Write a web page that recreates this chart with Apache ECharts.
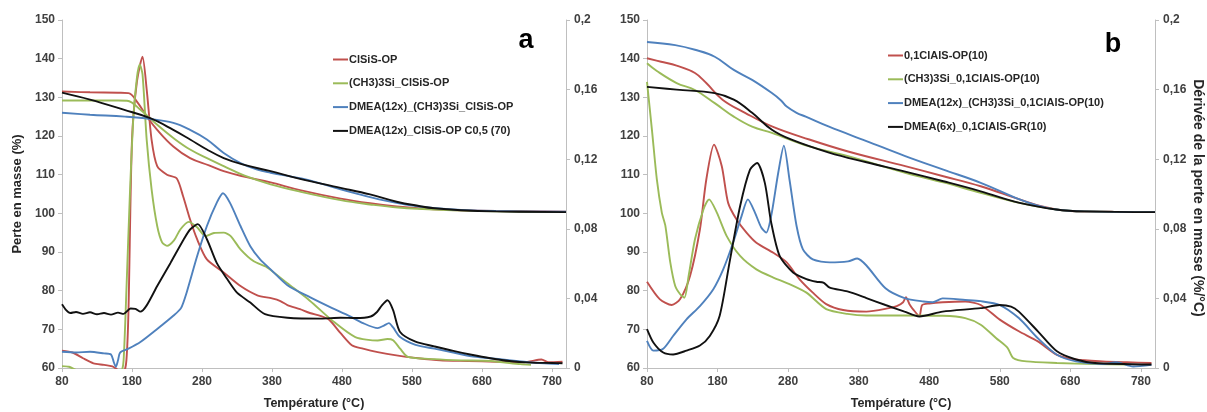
<!DOCTYPE html>
<html><head><meta charset="utf-8">
<script src="https://cdn.jsdelivr.net/npm/echarts@6/dist/echarts.min.js"></script>
<style>html,body{margin:0;padding:0;background:#fff}#c{width:1207px;height:412px}</style>
</head><body><div id="c"></div>
<script>
// ---------- DATA ----------
const xTicks = [80,180,280,380,480,580,680,780];
const leftTicks = [60,70,80,90,100,110,120,130,140,150];
const rightTicks = [0,0.04,0.08,0.12,0.16,0.2];

const namesA = ['ClSiS-OP','(CH3)3Si_ClSiS-OP','DMEA(12x)_(CH3)3Si_ClSiS-OP','DMEA(12x)_ClSiS-OP C0,5 (70)'];
const namesB = ['0,1ClAlS-OP(10)','(CH3)3Si_0,1ClAlS-OP(10)','DMEA(12x)_(CH3)3Si_0,1ClAlS-OP(10)','DMEA(6x)_0,1ClAlS-GR(10)'];

// Panel a – mass loss (%)
const redMassA = [[80,131.5],[120,131.3],[160,131.2],[175,131.1],[187,128.9],[201,125.1],[216,121.6],[239,117.3],[263,114.3],[290,112.4],[311,110.9],[340,109.5],[378,108],[420,106],[478,103.8],[520,102.6],[558,101.8],[600,101.2],[650,100.8],[700,100.6],[800,100.4]];
const greenMassA = [[80,129.2],[160,129.2],[173,129.1],[192,126.8],[216,122.9],[239,119.5],[263,116.5],[290,114],[311,112.2],[340,109.8],[378,107.5],[420,105.6],[478,103.4],[520,102.3],[560,101.5],[620,100.9],[700,100.5],[800,100.3]];
const blueMassA = [[80,126],[120,125.5],[170,125],[206,124.4],[239,123.4],[263,121.6],[287,119.1],[311,115.6],[335,113],[359,111.3],[378,110.5],[422,109],[450,107.7],[478,106.2],[505,104.9],[533,103.6],[571,102.3],[610,101.4],[650,100.9],[700,100.6],[800,100.4]];
const blackMassA = [[80,131.2],[120,129.4],[168,126.8],[206,124.6],[239,121.6],[263,119.1],[287,116.5],[311,114.3],[339,112.6],[378,110.9],[420,108.9],[478,106.6],[520,104.9],[558,103],[590,101.9],[612,101.3],[650,100.8],[700,100.5],[800,100.3]];

// Panel a – derivative (%/°C)
const redDerA = [[80,0.0100],[95,0.0089],[110,0.0056],[125,0.0027],[140,0.0018],[152,0.0009],[160,-0.0011],[168,-0.0022],[172,0.0044],[175,0.0333],[180,0.1311],[187,0.1644],[195,0.1789],[201,0.1600],[208,0.1311],[216,0.1160],[230,0.1111],[244,0.1089],[253,0.0987],[263,0.0853],[273,0.0740],[287,0.0624],[311,0.0549],[335,0.0471],[359,0.0418],[380,0.0400],[392,0.0385],[402,0.0362],[420,0.0338],[434,0.0316],[450,0.0298],[462,0.0276],[478,0.0200],[494,0.0131],[510,0.0111],[531,0.0091],[560,0.0071],[585,0.0058],[620,0.0044],[660,0.0040],[700,0.0036],[740,0.0033],[765,0.0049],[775,0.0033],[795,0.0036]];
const greenDerA = [[80,0.0011],[90,0.0007],[100,-0.0011],[130,-0.0044],[160,-0.0044],[165,-0.0022],[168,0.0044],[172,0.0444],[177,0.1000],[182,0.1444],[187,0.1667],[191,0.1744],[195,0.1689],[201,0.1311],[208,0.1027],[216,0.0816],[223,0.0722],[230,0.0702],[240,0.0733],[249,0.0796],[261,0.0840],[273,0.0809],[285,0.0758],[297,0.0776],[311,0.0778],[321,0.0758],[335,0.0682],[354,0.0613],[373,0.0578],[402,0.0487],[434,0.0387],[466,0.0273],[499,0.0178],[531,0.0158],[545,0.0167],[553,0.0160],[563,0.0111],[574,0.0064],[612,0.0051],[650,0.0044],[692,0.0040],[735,0.0022],[750,0.0018]];
const blueDerA = [[80,0.0093],[100,0.0089],[120,0.0093],[140,0.0084],[150,0.0078],[154,0.0033],[157,0.0007],[160,0.0044],[163,0.0089],[175,0.0111],[192,0.0149],[216,0.0224],[239,0.0300],[250,0.0344],[258,0.0433],[273,0.0642],[287,0.0816],[301,0.0949],[310,0.1004],[320,0.0949],[335,0.0816],[349,0.0700],[363,0.0624],[378,0.0567],[402,0.0476],[434,0.0407],[466,0.0344],[490,0.0300],[510,0.0258],[531,0.0229],[540,0.0244],[547,0.0258],[553,0.0233],[563,0.0178],[585,0.0133],[612,0.0111],[639,0.0089],[665,0.0067],[692,0.0056],[746,0.0033],[790,0.0022]];
const blackDerA = [[80,0.0367],[86,0.0333],[92,0.0316],[100,0.0322],[110,0.0311],[120,0.0320],[130,0.0309],[140,0.0316],[150,0.0307],[160,0.0318],[168,0.0311],[178,0.0342],[185,0.0340],[192,0.0324],[201,0.0360],[216,0.0471],[235,0.0604],[254,0.0740],[263,0.0796],[274,0.0827],[287,0.0740],[301,0.0604],[316,0.0511],[330,0.0433],[349,0.0376],[370,0.0309],[402,0.0289],[450,0.0284],[478,0.0289],[500,0.0287],[521,0.0296],[530,0.0322],[537,0.0360],[545,0.0389],[553,0.0333],[563,0.0207],[585,0.0151],[612,0.0124],[639,0.0098],[665,0.0076],[692,0.0056],[719,0.0040],[750,0.0031],[780,0.0029],[795,0.0027]];

// Panel b – mass loss (%)
const redMassB = [[80,140.1],[100,139.2],[122,138.2],[148,136.3],[164,133.7],[187,129.4],[219,126],[257,122.5],[310,119.1],[365,116],[446,112.2],[500,109.6],[553,107],[608,103.6],[640,101.8],[680,100.6],[740,100.4],[800,100.3]];
const greenMassB = [[80,138.8],[94,136.8],[122,133.7],[148,131.9],[176,128.5],[203,125],[229,122.4],[257,120.8],[310,117.3],[365,114.8],[446,110.5],[500,108],[553,105.3],[608,102.7],[660,101],[700,100.5],[800,100.3]];
const blueMassB = [[80,144.3],[120,143.5],[148,142.3],[176,140.5],[203,137.1],[229,134.5],[257,131.1],[270,129.2],[278,127.6],[292,126],[305,125],[338,122.4],[391,118.7],[446,114.8],[500,111.3],[553,107.9],[608,103.6],[634,102],[660,101],[700,100.5],[800,100.3]];
const blackMassB = [[80,132.7],[122,132],[176,131.1],[203,129.4],[229,126],[257,121.6],[284,119.1],[338,115.7],[391,113.2],[446,110.8],[500,108.3],[553,105.7],[608,102.7],[660,101],[700,100.5],[800,100.3]];

// Panel b – derivative (%/°C)
const redDerB = [[80,0.0496],[98,0.0396],[115,0.0362],[127,0.0396],[141,0.0529],[155,0.0796],[164,0.1082],[175,0.1284],[186,0.1160],[195,0.0949],[207,0.0853],[221,0.0778],[235,0.0720],[259,0.0662],[278,0.0607],[296,0.0511],[315,0.0433],[334,0.0367],[358,0.0333],[391,0.0324],[423,0.0344],[434,0.0356],[443,0.0378],[447,0.0407],[452,0.0367],[458,0.0333],[466,0.0298],[470,0.0362],[480,0.0371],[499,0.0378],[531,0.0382],[553,0.0362],[580,0.0278],[607,0.0211],[634,0.0153],[661,0.0076],[688,0.0049],[726,0.0038],[760,0.0033],[795,0.0029]];
const greenDerB = [[80,0.1644],[87,0.1369],[94,0.1082],[101,0.0893],[106,0.0818],[113,0.0607],[120,0.0471],[127,0.0424],[133,0.0404],[139,0.0529],[148,0.0740],[160,0.0911],[168,0.0969],[179,0.0893],[193,0.0758],[212,0.0644],[235,0.0567],[259,0.0520],[282,0.0482],[306,0.0433],[334,0.0338],[364,0.0311],[391,0.0302],[445,0.0302],[499,0.0300],[531,0.0287],[553,0.0249],[575,0.0171],[591,0.0116],[599,0.0058],[618,0.0038],[661,0.0029],[715,0.0022],[760,0.0020]];
const blueDerB = [[80,0.0156],[89,0.0100],[103,0.0111],[117,0.0184],[136,0.0280],[155,0.0356],[174,0.0453],[188,0.0567],[202,0.0720],[214,0.0873],[223,0.0969],[233,0.0893],[242,0.0807],[249,0.0778],[256,0.0873],[266,0.1122],[274,0.1278],[282,0.1082],[292,0.0816],[301,0.0682],[315,0.0624],[339,0.0607],[365,0.0613],[378,0.0629],[391,0.0589],[418,0.0458],[445,0.0402],[472,0.0382],[485,0.0378],[499,0.0400],[531,0.0391],[553,0.0384],[580,0.0362],[607,0.0287],[634,0.0171],[661,0.0076],[688,0.0038],[726,0.0022],[745,0.0033],[769,0.0009],[795,0.0018]];
const blackDerB = [[80,0.0224],[89,0.0147],[103,0.0089],[117,0.0078],[136,0.0100],[155,0.0129],[169,0.0184],[183,0.0300],[197,0.0607],[212,0.0931],[226,0.1140],[236,0.1178],[247,0.1064],[256,0.0836],[268,0.0644],[287,0.0549],[306,0.0511],[320,0.0496],[330,0.0491],[339,0.0462],[364,0.0440],[391,0.0402],[418,0.0362],[445,0.0324],[466,0.0296],[499,0.0324],[553,0.0344],[580,0.0362],[596,0.0353],[607,0.0324],[634,0.0211],[661,0.0096],[688,0.0049],[715,0.0029],[795,0.0020]];

// ---------- CHART ----------
const colors = ['#C0504D','#9BBB59','#4F81BD','#111111'];
const FONT = '"Liberation Sans", Arial, sans-serif';
const lblStyle = {fontFamily: FONT, fontWeight: 'bold', fontSize: 12, color: '#404040'};
const axisLineGray = {show: true, lineStyle: {color: '#BFBFBF', width: 1}};

function xAxis(gi){
  return {type:'value', gridIndex: gi, min: 80, max: 800, interval: 100,
    axisLine: axisLineGray, axisTick: {show: true, length: 4, lineStyle:{color:'#BFBFBF'}},
    splitLine: {show:false}, axisLabel: Object.assign({margin: 8, showMaxLabel:false,
      formatter: v => (xTicks.indexOf(v) >= 0 ? String(v) : '')}, lblStyle)};
}
function leftAxis(gi){
  return {type:'value', gridIndex: gi, min: leftTicks[0], max: leftTicks[leftTicks.length-1], interval: 10, position:'left',
    axisLine: axisLineGray, axisTick:{show:true, length:4, lineStyle:{color:'#BFBFBF'}},
    splitLine:{show:false}, axisLabel: Object.assign({margin: 7}, lblStyle)};
}
function rightAxis(gi){
  return {type:'value', gridIndex: gi, min: rightTicks[0], max: rightTicks[rightTicks.length-1], interval: 0.04, position:'right',
    axisLine: axisLineGray, axisTick:{show:true, length:4, lineStyle:{color:'#BFBFBF'}},
    splitLine:{show:false}, axisLabel: Object.assign({margin: 8,
      formatter: v => String(+v.toFixed(2)).replace('.', ',')}, lblStyle)};
}
function line(name, data, color, xi, yi, smooth){
  return {name, type:'line', data, xAxisIndex: xi, yAxisIndex: yi, showSymbol:false, symbol:'none',
    smooth: smooth, lineStyle:{color, width: 1.9}, itemStyle:{color}, clip:true, animation:false, z: 2};
}

const massA = [redMassA, greenMassA, blueMassA, blackMassA];
const derA = [redDerA, greenDerA, blueDerA, blackDerA];
const massB = [redMassB, greenMassB, blueMassB, blackMassB];
const derB = [redDerB, greenDerB, blueDerB, blackDerB];
const series = [];
for (let i = 0; i < 4; i++) {
  series.push(line(namesA[i], derA[i], colors[i], 0, 1, 0.25));
  series.push(line(namesA[i], massA[i], colors[i], 0, 0, 0.4));
  series.push(line(namesB[i], derB[i], colors[i], 1, 3, 0.25));
  series.push(line(namesB[i], massB[i], colors[i], 1, 2, 0.4));
}

function legend(names, left, top){
  return {data: names, orient:'vertical', left, top, itemWidth: 15, itemHeight: 2, icon:'rect',
    itemGap: 12.8, padding: 0, selectedMode:false,
    textStyle:{fontFamily: FONT, fontWeight:'bold', fontSize: 11, color:'#262626', padding:[0,0,0,-4]}};
}

const chart = echarts.init(document.getElementById('c'), null, {renderer:'canvas'});
chart.setOption({
  animation: false,
  backgroundColor: '#ffffff',
  grid: [
    {left: 62, right: 1207-566, top: 20, bottom: 412-368},
    {left: 647, right: 1207-1155, top: 20, bottom: 412-368}
  ],
  xAxis: [xAxis(0), xAxis(1)],
  yAxis: [leftAxis(0), rightAxis(0), leftAxis(1), rightAxis(1)],
  legend: [legend(namesA, 333, 54), legend(namesB, 888, 50)],
  series,
  graphic: [
    {type:'text', x: 526, y: 41, style:{text:'a', font:'bold 27px ' + FONT, fill:'#000', align:'center', verticalAlign:'middle'}},
    {type:'text', x: 1113, y: 45, style:{text:'b', font:'bold 27px ' + FONT, fill:'#000', align:'center', verticalAlign:'middle'}},
    {type:'text', x: 17, y: 194, rotation: Math.PI/2, style:{text:'Perte en masse (%)', font:'bold 13px ' + FONT, fill:'#262626', align:'center', verticalAlign:'middle'}},
    {type:'text', x: 1198, y: 198, rotation: -Math.PI/2, style:{text:'Dérivée de la perte en masse (%/°C)', font:'bold 14px ' + FONT, fill:'#262626', align:'center', verticalAlign:'middle'}},
    {type:'text', x: 314, y: 404, style:{text:'Température (°C)', font:'bold 12.5px ' + FONT, fill:'#262626', align:'center', verticalAlign:'middle'}},
    {type:'text', x: 901, y: 404, style:{text:'Température (°C)', font:'bold 12.5px ' + FONT, fill:'#262626', align:'center', verticalAlign:'middle'}}
  ]
});
</script>
</body></html>
